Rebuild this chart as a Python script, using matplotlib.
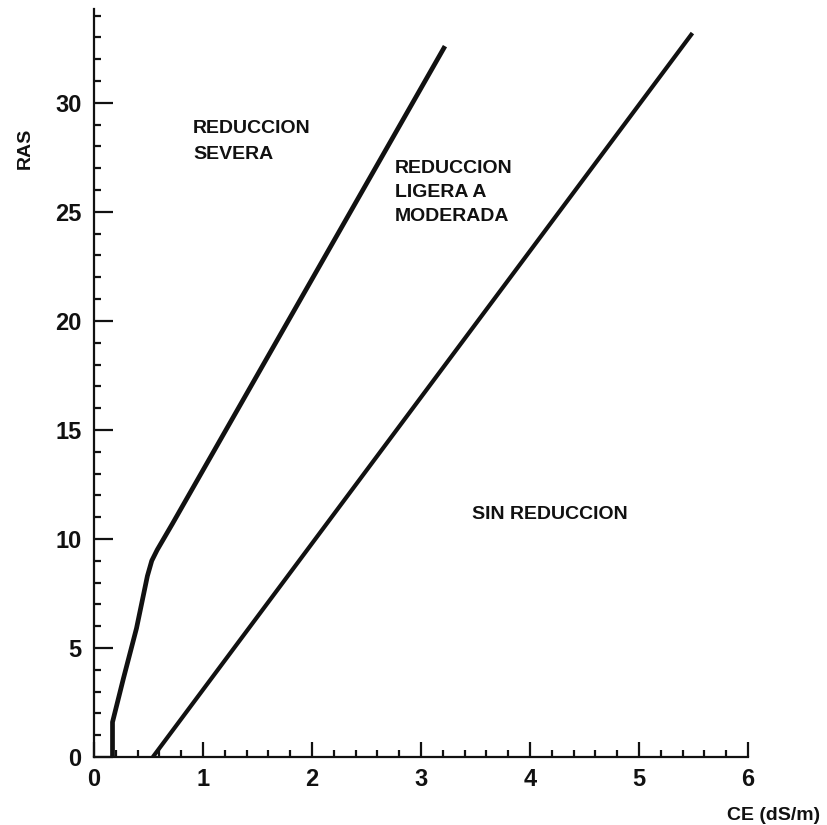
import matplotlib
matplotlib.use("Agg")
import matplotlib.pyplot as plt
from matplotlib.ticker import MultipleLocator

# Data
severe_x = [0.17, 0.17, 0.27, 0.39, 0.49, 0.53, 0.58, 0.65, 0.72, 3.22]
severe_y = [0.0, 1.6, 3.6, 5.9, 8.3, 9.0, 9.5, 10.1, 10.7, 32.6]
moderate_x = [0.54, 5.49]
moderate_y = [0.0, 33.2]

x_ticks = [0, 1, 2, 3, 4, 5, 6]
y_ticks = [0, 5, 10, 15, 20, 25, 30]

region_labels = ["REDUCCION\nSEVERA", "REDUCCION\nLIGERA A\nMODERADA", "SIN REDUCCION"]
region_x = [0.91, 2.76, 3.47]
region_y = [29.2, 27.4, 11.5]
region_spacing = [1.65, 1.55, 1.2]

FONT = "Liberation Sans"

fig = plt.figure(figsize=(8.28, 8.25), dpi=100)
ax = fig.add_axes([0.1135, 0.0824, 0.7899, 0.9066])

ax.plot(severe_x, severe_y, color="#111111", lw=3.4, solid_capstyle="butt",
        solid_joinstyle="round")
ax.plot(moderate_x, moderate_y, color="#111111", lw=3.0, solid_capstyle="butt")

ax.set_xlim(0, 6)
ax.set_ylim(0, 34.3)

for s in ["top", "right"]:
    ax.spines[s].set_visible(False)
for s in ["left", "bottom"]:
    ax.spines[s].set_linewidth(1.6)
    ax.spines[s].set_color("#111111")

ax.set_xticks(x_ticks)
ax.set_yticks(y_ticks)
ax.set_xticklabels([str(v) for v in x_ticks])
ax.set_yticklabels([str(v) for v in y_ticks])
ax.xaxis.set_minor_locator(MultipleLocator(0.2))
ax.yaxis.set_minor_locator(MultipleLocator(1))

ax.tick_params(axis="x", which="major", direction="in", length=11, width=1.6,
               pad=8, labelsize=17, colors="#111111")
ax.tick_params(axis="y", which="major", direction="in", length=14, width=1.6,
               pad=9, labelsize=17, colors="#111111")
ax.tick_params(axis="both", which="minor", direction="in", length=5, width=1.6,
               colors="#111111")
for lab in ax.get_xticklabels() + ax.get_yticklabels():
    lab.set_fontfamily(FONT)
    lab.set_fontweight("bold")

for txt, x, y, ls in zip(region_labels, region_x, region_y, region_spacing):
    ax.text(x, y, txt, fontsize=14, fontweight="bold", family=FONT,
            ha="left", va="top", linespacing=ls, color="#111111")

fig.text(25 / 828, 1 - 148 / 825, "RAS", rotation=90, ha="center", va="center",
         fontsize=14, fontweight="bold", family=FONT, color="#111111")
fig.text(820 / 828, 1 - 815 / 825, "CE (dS/m)", ha="right", va="center",
         fontsize=14, fontweight="bold", family=FONT, color="#111111")

fig.savefig("out.png", dpi=100)
